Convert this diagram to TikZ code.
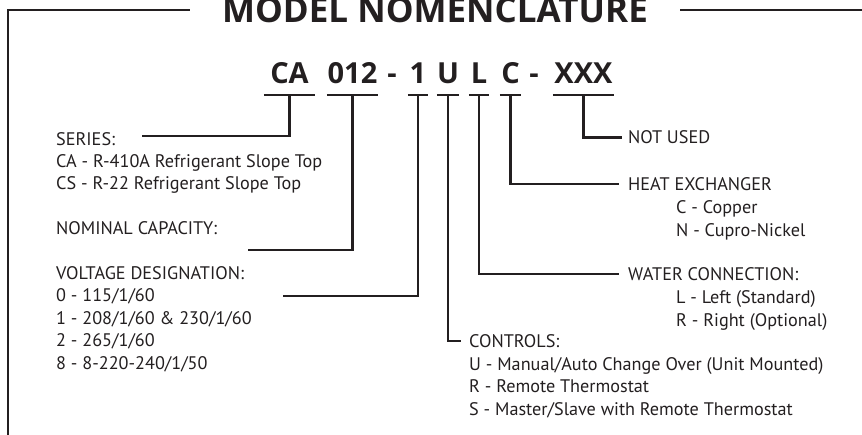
\documentclass[tikz,border=0pt]{standalone}
\usepackage{fontspec}
\setmainfont{PT Sans}
\newfontfamily\titlefont{Open Sans}
\definecolor{ink}{HTML}{231F20}

\tikzset{
  wire/.style={line width=2.3pt, draw=ink},
  txt/.style={anchor=base west, inner sep=0pt, text=ink, font=\fontsize{18.2}{22}\selectfont},
  code/.style={anchor=base, inner xsep=0pt, inner ysep=0pt, text depth=11pt, text=ink, font=\titlefont\fontsize{29}{30}\selectfont\bfseries},
}

\begin{document}
\begin{tikzpicture}[x=1pt, y=-1pt]
  \useasboundingbox (0,0) rectangle (862,435);

  % title and frame
  \node[anchor=base, inner xsep=32pt, inner ysep=0pt, text=ink,
        font=\titlefont\fontsize{35}{36}\selectfont\bfseries] (title) at (435,23) {MODEL NOMENCLATURE};
  \coordinate (topline) at (0,10);
  \coordinate (corner) at (8,10);
  \coordinate (cornerB) at (8,440);
  \coordinate (rightEnd) at (870,10);
  \draw[wire] (title.west |- topline) -- (corner) -- (cornerB);
  \draw[wire] (title.east |- topline) -- (rightEnd);

  % model code
  \node[code, minimum width=51pt] (ca)  at (289.5,84) {CA};
  \node[code, minimum width=51pt] (cap) at (352.5,84) {012};
  \node[code]                     (dashA) at (392,84) {-};
  \node[code, minimum width=20pt] (vlt) at (418,84) {1};
  \node[code, minimum width=22pt] (ctl) at (448,84) {U};
  \node[code, minimum width=20pt] (wtr) at (479,84) {L};
  \node[code, minimum width=21pt] (hx)  at (510.5,84) {C};
  \node[code]                     (dashB) at (534,84) {-};
  \node[code, minimum width=61pt] (nu)  at (583.5,84) {XXX};

  \foreach \n in {ca, cap, vlt, ctl, wtr, hx, nu}
    \draw[wire] (\n.south west) -- (\n.south east);

  % left descriptions
  \node[txt] (series)  at (56,146)   {SERIES:};
  \node[txt] (serA)    at (56,168)   {CA - R-410A Refrigerant Slope Top};
  \node[txt] (serB)    at (56,190)   {CS - R-22 Refrigerant Slope Top};
  \node[txt] (nominal) at (56,234.5) {NOMINAL CAPACITY:};
  \node[txt] (voltage) at (56,279.5) {VOLTAGE DESIGNATION:};
  \foreach \t [count=\i] in {0 - 115/1/60, 1 - 208/1/60 \& 230/1/60, 2 - 265/1/60, 8 - 8-220-240/1/50}
    \node[txt] (volt\i) at (56,279.5+22.5*\i) {\t};

  % right descriptions
  \node[txt] (notused)  at (628,144)   {NOT USED};
  \node[txt] (heatx)    at (628,190.5) {HEAT EXCHANGER};
  \node[txt] (hxA)      at (676,213.5) {C - Copper};
  \node[txt] (hxB)      at (676,236.5) {N - Cupro-Nickel};
  \node[txt] (watercon) at (628,280.5) {WATER CONNECTION:};
  \node[txt] (wcA)      at (676,303.5) {L - Left (Standard)};
  \node[txt] (wcB)      at (676,326.5) {R - Right (Optional)};
  \node[txt] (controls) at (469,347.5) {CONTROLS:};
  \foreach \t [count=\i] in {U - Manual/Auto Change Over (Unit Mounted), R - Remote Thermostat, S - Master/Slave with Remote Thermostat}
    \node[txt] (ctrl\i) at (469,347.5+22.7*\i) {\t};

  % leaders
  \coordinate (serEnd)  at (142,136);
  \coordinate (capEnd)  at (248,250);
  \coordinate (vltEnd)  at (283,296);
  \draw[wire] (ca.south)  |- (serEnd);
  \draw[wire] (cap.south) |- (capEnd);
  \draw[wire] (vlt.south) |- (vltEnd);
  \draw[wire] (ctl.south) |- ([xshift=-8pt]controls.west);
  \draw[wire] (wtr.south) |- ([xshift=-9pt]watercon.west);
  \draw[wire] (hx.south)  |- ([xshift=-9pt]heatx.west);
  \draw[wire] (nu.south)  |- ([xshift=-6pt]notused.west);
\end{tikzpicture}
\end{document}
